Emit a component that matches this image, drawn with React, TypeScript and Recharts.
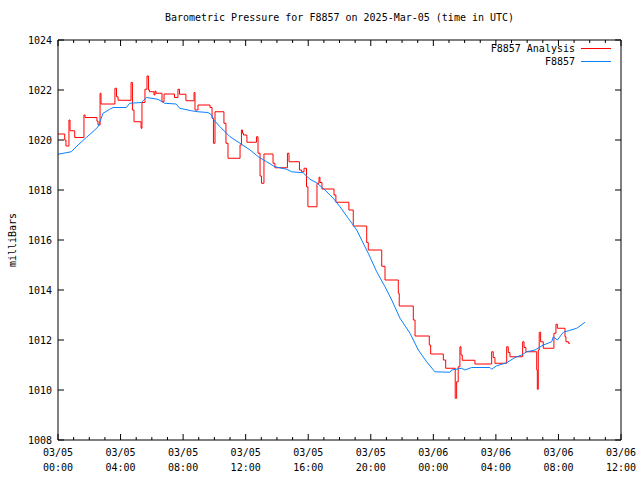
import React from "react";
import { LineChart, Line, XAxis, YAxis } from "recharts";

// [hours since 03/05 00:00 UTC, millibars] — analysis value starting at that time
const analysisSeries: [number, number][] = [
  [0, 1020.24], [0.43, 1020.0], [0.51, 1019.76], [0.7, 1020.8], [0.77, 1020.37],
  [1.07, 1020.1], [1.66, 1021.0], [1.73, 1020.9], [2.49, 1020.75], [2.56, 1020.6],
  [2.69, 1021.87], [2.75, 1021.44], [3.64, 1022.07], [3.74, 1021.73], [3.84, 1021.59],
  [4.67, 1022.3], [4.76, 1021.2], [4.86, 1020.73], [5.31, 1020.47], [5.37, 1021.5],
  [5.56, 1022.03], [5.69, 1022.56], [5.79, 1022.0], [5.85, 1021.93], [6.14, 1021.8],
  [6.2, 1021.95], [6.27, 1021.87], [6.65, 1021.53], [6.78, 1021.84], [7.45, 1021.7],
  [7.67, 1022.03], [7.77, 1021.83], [8.18, 1021.57], [8.7, 1021.9], [8.76, 1021.2],
  [8.95, 1021.4], [9.72, 1021.3], [9.85, 1020.87], [9.94, 1019.87], [10.04, 1021.13],
  [10.61, 1020.67], [10.74, 1019.87], [10.87, 1019.27], [11.64, 1019.8], [11.73, 1020.4],
  [11.8, 1020.27], [11.86, 1020.2], [12.08, 1019.91], [12.69, 1020.13], [12.79, 1019.47],
  [12.92, 1018.56], [13.01, 1018.27], [13.17, 1019.44], [13.75, 1019.07], [13.87, 1018.89],
  [14.67, 1019.47], [14.77, 1019.13], [15.44, 1018.8], [15.57, 1018.73], [15.73, 1018.87],
  [15.89, 1018.13], [15.98, 1017.33], [16.56, 1018.27], [16.69, 1018.51], [16.75, 1018.3],
  [16.88, 1018.04], [17.65, 1017.8], [17.77, 1017.51], [18.6, 1017.2], [18.88, 1016.56],
  [19.74, 1015.9], [19.84, 1015.6], [20.7, 1014.95], [20.91, 1014.4], [21.76, 1013.87],
  [21.82, 1013.36], [22.72, 1012.8], [22.83, 1012.16], [23.74, 1011.8], [23.83, 1011.44],
  [24.64, 1011.2], [24.79, 1010.87], [25.4, 1009.67], [25.49, 1010.33], [25.59, 1010.93],
  [25.7, 1011.73], [25.77, 1011.4], [25.85, 1011.19], [26.66, 1011.04], [27.73, 1011.53],
  [27.83, 1011.3], [27.94, 1011.07], [28.69, 1011.73], [28.79, 1011.5], [28.9, 1011.33],
  [29.71, 1011.93], [29.8, 1011.7], [29.92, 1011.53], [30.61, 1010.8], [30.65, 1010.03],
  [30.71, 1011.6], [30.77, 1012.31], [30.86, 1011.93], [31.03, 1011.67], [31.71, 1012.27],
  [31.84, 1012.63], [31.93, 1012.47], [32.42, 1012.13], [32.48, 1011.93], [32.63, 1011.87],
  [32.74, 1011.87],
];

// [hours since 03/05 00:00 UTC, millibars] — station observations
const stationSeries: [number, number][] = [
  [0, 1019.43], [0.85, 1019.53], [1.28, 1019.8], [1.81, 1020.1], [2.35, 1020.4],
  [2.56, 1020.53], [2.88, 1021.07], [3.31, 1021.23], [3.52, 1021.3], [4.37, 1021.3],
  [4.58, 1021.47], [5.33, 1021.5], [5.65, 1021.7], [6.39, 1021.63], [6.82, 1021.47],
  [7.56, 1021.44], [7.78, 1021.27], [8.52, 1021.17], [8.95, 1021.13], [9.59, 1021.1],
  [9.83, 1021.0], [9.93, 1020.83], [10.36, 1020.53], [11.0, 1020.13], [11.64, 1019.87],
  [12.28, 1019.6], [12.81, 1019.33], [13.34, 1019.13], [13.87, 1018.93], [14.62, 1018.83],
  [14.94, 1018.73], [15.68, 1018.69], [16.11, 1018.43], [16.54, 1018.29], [17.07, 1018.0],
  [17.6, 1017.67], [18.03, 1017.33], [18.56, 1016.87], [19.1, 1016.4], [19.63, 1015.73],
  [19.84, 1015.47], [20.38, 1014.73], [20.91, 1014.13], [21.34, 1013.6], [21.87, 1012.87],
  [22.51, 1012.27], [23.04, 1011.6], [23.57, 1011.13], [24.1, 1010.73], [25.06, 1010.71],
  [25.17, 1010.8], [25.81, 1010.87], [26.02, 1010.8], [26.45, 1010.9], [27.62, 1010.9],
  [27.73, 1010.83], [28.05, 1010.97], [28.69, 1011.09], [29.22, 1011.3], [29.65, 1011.4],
  [29.97, 1011.53], [30.5, 1011.6], [31.03, 1011.8], [31.57, 1011.93], [31.67, 1012.13],
  [31.93, 1012.0], [32.31, 1012.31], [32.63, 1012.37], [33.17, 1012.47], [33.7, 1012.71],
];

const xTicks = Array.from({ length: 37 }, (_, i) => i);
const xMajorLabels: Record<number, [string, string]> = {
  0: ["03/05", "00:00"],
  4: ["03/05", "04:00"],
  8: ["03/05", "08:00"],
  12: ["03/05", "12:00"],
  16: ["03/05", "16:00"],
  20: ["03/05", "20:00"],
  24: ["03/06", "00:00"],
  28: ["03/06", "04:00"],
  32: ["03/06", "08:00"],
  36: ["03/06", "12:00"],
};
const yTicks = [1008, 1010, 1012, 1014, 1016, 1018, 1020, 1022, 1024];

// Step-shaped path: each new analysis value starts at its own time.
const analysisData: { h: number; v: number }[] = [];
analysisSeries.forEach(([h, v], i) => {
  if (i > 0) analysisData.push({ h, v: analysisSeries[i - 1][1] });
  analysisData.push({ h, v });
});
const stationData = stationSeries.map(([h, v]) => ({ h, v }));

const FONT = "'DejaVu Sans Mono', 'Liberation Mono', monospace";
const RED = "#ff0000";
const BLUE = "#0a80ff";

const BottomTick = (props: any) => {
  const { x, y, payload } = props;
  const lab = xMajorLabels[payload.value];
  const major = !!lab;
  return (
    <g>
      <line x1={x} x2={x} y1={y} y2={y - (major ? 6 : 3)} stroke="#000" />
      {lab && (
        <text x={x} y={y} textAnchor="middle" fontFamily={FONT} fontSize={10} fill="#000">
          <tspan x={x} dy={16}>{lab[0]}</tspan>
          <tspan x={x} dy={15}>{lab[1]}</tspan>
        </text>
      )}
    </g>
  );
};

const TopTick = (props: any) => {
  const { x, y, payload } = props;
  const major = !!xMajorLabels[payload.value];
  return <line x1={x} x2={x} y1={y} y2={y + (major ? 6 : 3)} stroke="#000" />;
};

const LeftTick = (props: any) => {
  const { x, y, payload } = props;
  return (
    <g>
      <line x1={x} x2={x + 6} y1={y} y2={y} stroke="#000" />
      <text x={x - 6} y={y + 4} textAnchor="end" fontFamily={FONT} fontSize={10} fill="#000">
        {payload.value}
      </text>
    </g>
  );
};

const RightTick = (props: any) => {
  const { x, y } = props;
  return <line x1={x} x2={x - 6} y1={y} y2={y} stroke="#000" />;
};

const LegendBox = () => (
  <div
    style={{
      position: "absolute",
      top: 42,
      left: 440,
      width: 172,
      fontFamily: FONT,
      fontSize: 10,
      lineHeight: "13px",
      color: "#000",
    }}
  >
    {[
      { name: "F8857 Analysis", color: RED },
      { name: "F8857", color: BLUE },
    ].map((it) => (
      <div key={it.name} style={{ display: "flex", justifyContent: "flex-end", alignItems: "center" }}>
        <span>{it.name}</span>
        <span style={{ display: "inline-block", width: 30, height: 1, background: it.color, marginLeft: 6, marginRight: 1 }} />
      </div>
    ))}
  </div>
);

export default function App() {
  return (
    <div style={{ position: "relative", width: 640, height: 480, background: "#fff" }}>
      <style>{`body{margin:0}`}</style>
      <div
        style={{
          position: "absolute",
          top: 12,
          left: 58,
          width: 563,
          textAlign: "center",
          fontFamily: FONT,
          fontSize: 10,
          color: "#000",
        }}
      >
        Barometric Pressure for F8857 on 2025-Mar-05 (time in UTC)
      </div>
      <div
        style={{
          position: "absolute",
          left: 12,
          top: 240,
          transform: "translate(-50%, -50%) rotate(-90deg)",
          fontFamily: FONT,
          fontSize: 10,
          color: "#000",
          whiteSpace: "nowrap",
        }}
      >
        milliBars
      </div>
      <LineChart width={640} height={480} margin={{ top: 39, right: 18, bottom: 39, left: 0 }}>
        <XAxis
          xAxisId="b"
          dataKey="h"
          type="number"
          domain={[0, 36]}
          ticks={xTicks}
          interval={0}
          tickLine={false}
          tickSize={0}
          tickMargin={0}
          height={1}
          axisLine={{ stroke: "#000" }}
          tick={<BottomTick />}
          allowDataOverflow
        />
        <XAxis
          xAxisId="t"
          orientation="top"
          dataKey="h"
          type="number"
          domain={[0, 36]}
          ticks={xTicks}
          interval={0}
          tickLine={false}
          tickSize={0}
          tickMargin={0}
          height={1}
          axisLine={{ stroke: "#000" }}
          tick={<TopTick />}
          allowDataOverflow
        />
        <YAxis
          yAxisId="l"
          type="number"
          domain={[1008, 1024]}
          ticks={yTicks}
          interval={0}
          tickLine={false}
          tickSize={0}
          tickMargin={0}
          width={58}
          axisLine={{ stroke: "#000" }}
          tick={<LeftTick />}
          allowDataOverflow
        />
        <YAxis
          yAxisId="r"
          orientation="right"
          type="number"
          domain={[1008, 1024]}
          ticks={yTicks}
          interval={0}
          tickLine={false}
          tickSize={0}
          tickMargin={0}
          width={1}
          axisLine={{ stroke: "#000" }}
          tick={<RightTick />}
          allowDataOverflow
        />
        <Line
          xAxisId="b"
          yAxisId="l"
          data={analysisData}
          dataKey="v"
          type="linear"
          stroke={RED}
          strokeWidth={1}
          dot={false}
          isAnimationActive={false}
        />
        <Line
          xAxisId="b"
          yAxisId="l"
          data={stationData}
          dataKey="v"
          type="linear"
          stroke={BLUE}
          strokeWidth={1}
          dot={false}
          isAnimationActive={false}
        />
      </LineChart>
      <LegendBox />
    </div>
  );
}
